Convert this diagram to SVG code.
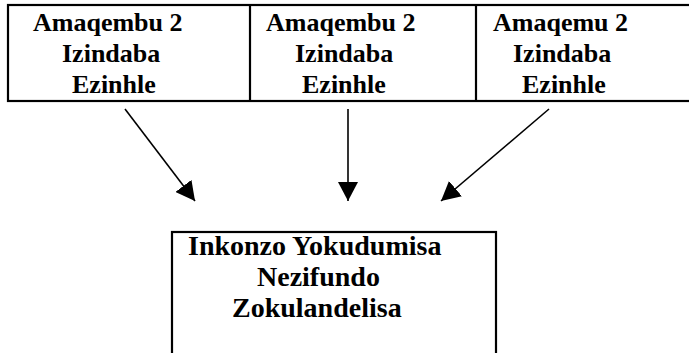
<svg xmlns="http://www.w3.org/2000/svg" width="689" height="353" viewBox="0 0 689 353">
<style>
.box{fill:#fff;stroke:#000;stroke-width:2.2}
.div{stroke:#000;stroke-width:2.2}
.t{font-family:'Liberation Serif','Times New Roman',serif;font-weight:bold;font-size:26px;fill:#000}
.tb{font-family:'Liberation Serif','Times New Roman',serif;font-weight:bold;font-size:28px;fill:#000}
.c{stroke:#000;stroke-width:1.6;fill:none;marker-end:url(#ah)}
</style>
<defs>
<marker id="ah" markerUnits="userSpaceOnUse" viewBox="0 0 19 20" refX="19" refY="10" markerWidth="19" markerHeight="20" orient="auto">
<path d="M0,0 L19,10 L0,20 Z" fill="#000"/>
</marker>
</defs>
<rect class="box" x="8" y="5" width="700" height="96"/>
<line class="div" x1="250" y1="5" x2="250" y2="101"/>
<line class="div" x1="476" y1="5" x2="476" y2="101"/>
<g id="n1">
<text class="t" x="33" y="31">Amaqembu 2</text>
<text class="t" x="62" y="62">Izindaba</text>
<text class="t" x="72" y="93">Ezinhle</text>
</g>
<g id="n2">
<text class="t" x="266" y="31">Amaqembu 2</text>
<text class="t" x="295" y="62">Izindaba</text>
<text class="t" x="302" y="93">Ezinhle</text>
</g>
<g id="n3">
<text class="t" x="493" y="31">Amaqemu 2</text>
<text class="t" x="513" y="62">Izindaba</text>
<text class="t" x="522" y="93">Ezinhle</text>
</g>
<g id="n4">
<rect class="box" x="172" y="232" width="324" height="140"/>
<text class="tb" x="188" y="255">Inkonzo Yokudumisa</text>
<text class="tb" x="257" y="286">Nezifundo</text>
<text class="tb" x="232" y="317">Zokulandelisa</text>
</g>
<g id="connectors">
<line class="c" x1="125" y1="109" x2="195" y2="201"/>
<line class="c" x1="348" y1="109" x2="348" y2="201"/>
<line class="c" x1="549" y1="109" x2="441" y2="201"/>
</g>
</svg>
